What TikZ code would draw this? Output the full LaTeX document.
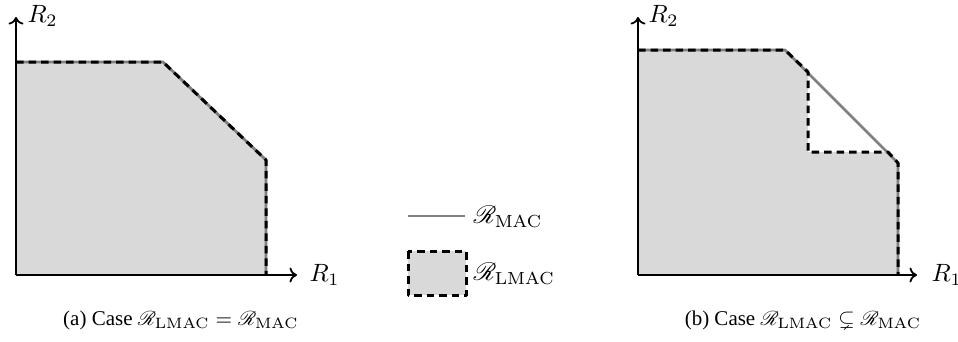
\documentclass[tikz,border=0pt]{standalone}
\usepackage{amssymb}
\usepackage{mathrsfs}
\usepackage[no-math]{fontspec}
\setmainfont{Liberation Serif}
\usetikzlibrary{arrows.meta}
\begin{document}
\begin{tikzpicture}[x=0.4pt,y=-0.4pt,
  axis/.style={line width=0.7pt,-{To[length=3pt,width=6pt]}},
  regfill/.style={fill=black!15,draw=none},
  macline/.style={draw=black!50,line width=1.1pt,line join=round},
  lmacline/.style={draw=black,line width=1.2pt,dash pattern=on 3pt off 2pt,line join=round},
  lbl/.style={inner sep=0pt,font=\normalsize},
  captext/.style={inner sep=0pt,font=\fontsize{8.4}{10}\selectfont}]
\useasboundingbox (0,0) rectangle (958,341);
% ---- (a) ----
\coordinate (O1) at (16,275);
\coordinate (Y1) at (16,17);
\coordinate (X1) at (297,275);
\coordinate (A1) at (16,62);
\coordinate (B1) at (163,62);
\coordinate (C1) at (266,160);
\coordinate (D1) at (266,275);
\fill[regfill] (O1) -- (A1) -- (B1) -- (C1) -- (D1) -- cycle;
\draw[macline] (A1) -- (B1) -- (C1) -- (D1);
\draw[lmacline] (A1) -- (B1) -- (C1) -- (D1);
\draw[axis] (O1) -- (Y1);
\draw[axis] (O1) -- (X1);
\node[lbl,anchor=west] (r2a) at (27,16) {$R_2$};
\node[lbl,anchor=west] (r1a) at (309,275) {$R_1$};
% ---- (b) ----
\coordinate (O2) at (638,275);
\coordinate (Y2) at (638,17);
\coordinate (X2) at (917,275);
\coordinate (A2) at (638,50);
\coordinate (B2) at (785,50);
\coordinate (C2) at (808,72);
\coordinate (D2) at (808,152);
\coordinate (E2) at (888,152);
\coordinate (F2) at (898,163);
\coordinate (G2) at (898,275);
\fill[regfill] (O2) -- (A2) -- (B2) -- (C2) -- (D2) -- (E2) -- (F2) -- (G2) -- cycle;
\draw[macline] (A2) -- (B2) -- (F2) -- (G2);
\draw[lmacline] (A2) -- (B2) -- (C2) -- (D2) -- (E2) -- (F2) -- (G2);
\draw[axis] (O2) -- (Y2);
\draw[axis] (O2) -- (X2);
\node[lbl,anchor=west] (r2b) at (648,16) {$R_2$};
\node[lbl,anchor=west] (r1b) at (931,275) {$R_1$};
% ---- legend ----
\coordinate (L1) at (408,216);
\coordinate (L2) at (465,216);
\draw[macline] (L1) -- (L2);
\node[lbl,anchor=west] (lmac) at (473,217) {$\mathscr{R}_{\mathrm{MAC}}$};
\coordinate (B1a) at (408,251);
\coordinate (B1b) at (466,295);
\fill[regfill] (B1a) rectangle (B1b);
\draw[lmacline] (B1a) rectangle (B1b);
\node[lbl,anchor=west] (llmac) at (473,274) {$\mathscr{R}_{\mathrm{LMAC}}$};
% ---- captions ----
\node[captext] (capa) at (181,320) {(a) Case $\mathscr{R}_{\mathrm{LMAC}}=\mathscr{R}_{\mathrm{MAC}}$};
\node[captext] (capb) at (803,320) {(b) Case $\mathscr{R}_{\mathrm{LMAC}}\subsetneq\mathscr{R}_{\mathrm{MAC}}$};
\end{tikzpicture}
\end{document}
